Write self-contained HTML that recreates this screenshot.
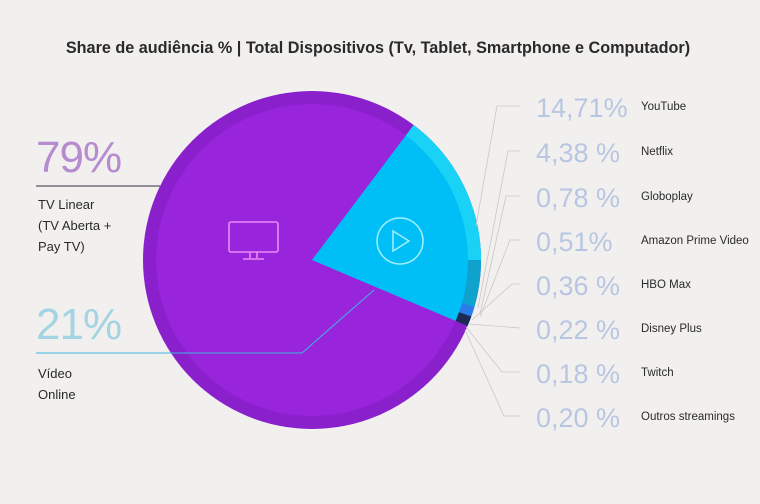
<!DOCTYPE html>
<html><head><meta charset="utf-8"><style>
body{margin:0;background:#f1f0ee;}
svg{display:block;font-family:"Liberation Sans",sans-serif;}
</style></head><body>
<svg width="760" height="504" viewBox="0 0 760 504">
<rect width="760" height="504" fill="#f1f0ee"/>
<text x="378" y="53" text-anchor="middle" font-size="16.2" font-weight="bold" fill="#2a2a2a">Share de audiência % | Total Dispositivos (Tv, Tablet, Smartphone e Computador)</text>
<circle cx="312" cy="260" r="169" fill="#8a1fcc"/>
<circle cx="312" cy="260" r="156" fill="#9824dc"/>
<path d="M312 260 L413.7 125 A169 169 0 0 1 467.6 326 Z" fill="#00bff7"/>
<path d="M413.7 125 A169 169 0 0 1 481 260 L468 260 A156 156 0 0 0 405.9 135.4 Z" fill="#1ad2f6"/>
<path d="M481 260 A169 169 0 0 1 474.5 306.6 L462 303 A156 156 0 0 0 468 260 Z" fill="#0fa2cc"/>
<path d="M474.5 306.6 A169 169 0 0 1 471.3 316.4 L459 312.1 A156 156 0 0 0 462 303 Z" fill="#2a7de8"/>
<path d="M471.3 316.4 A169 169 0 0 1 467.6 326 L455.6 321 A156 156 0 0 0 459 312.1 Z" fill="#1d2a55"/>
<rect x="229" y="222" width="49" height="30" rx="2" fill="none" stroke="#e98af5" stroke-width="1.6"/>
<path d="M250 252 v6 M257 252 v6 M243 259 h21" stroke="#e98af5" stroke-width="1.6"/>
<circle cx="400" cy="241" r="23" fill="none" stroke="#a0f0ff" stroke-width="1.5"/>
<path d="M393 231 L409 241 L393 251 Z" fill="none" stroke="#a0f0ff" stroke-width="1.5"/>
<text x="36" y="172" font-size="44" fill="#b68bd0" style="letter-spacing:-1px">79%</text>
<line x1="36" y1="186" x2="160" y2="186" stroke="#3a2a40" stroke-width="1"/>
<text x="38" y="209" font-size="13" fill="#2a2a2a">TV Linear</text>
<text x="38" y="230" font-size="13" fill="#2a2a2a">(TV Aberta +</text>
<text x="38" y="251" font-size="13" fill="#2a2a2a">Pay TV)</text>
<text x="36" y="339" font-size="44" fill="#a4d4e4" style="letter-spacing:-1px">21%</text>
<polyline points="36,353 302,353 374,290" fill="none" stroke="#3fb5e0" stroke-width="1"/>
<text x="38" y="378" font-size="13" fill="#2a2a2a">Vídeo</text>
<text x="38" y="399" font-size="13" fill="#2a2a2a">Online</text>
<g fill="none" stroke="#c8c8c8" stroke-width="0.8">
<polyline points="520,106 497,106 476,226"/>
<polyline points="520,151 508,151 478,308"/>
<polyline points="520,196 506,196 480,314"/>
<polyline points="520,240 510,240 480,317"/>
<polyline points="520,284 512,284 472,320"/>
<polyline points="520,328 468,324"/>
<polyline points="520,372 502,372 466,327"/>
<polyline points="520,416 504,416 465,330"/>
</g>
<g font-size="27" fill="#b8c6e2">
<text x="536" y="117">14,71%</text>
<text x="536" y="162">4,38 %</text>
<text x="536" y="207">0,78 %</text>
<text x="536" y="251">0,51%</text>
<text x="536" y="295">0,36 %</text>
<text x="536" y="339">0,22 %</text>
<text x="536" y="383">0,18 %</text>
<text x="536" y="427">0,20 %</text>
</g>
<g font-size="11.5" fill="#2a2a2a">
<text x="641" y="110">YouTube</text>
<text x="641" y="155">Netflix</text>
<text x="641" y="200">Globoplay</text>
<text x="641" y="244">Amazon Prime Video</text>
<text x="641" y="288">HBO Max</text>
<text x="641" y="332">Disney Plus</text>
<text x="641" y="376">Twitch</text>
<text x="641" y="420">Outros streamings</text>
</g>
</svg>
</body></html>
